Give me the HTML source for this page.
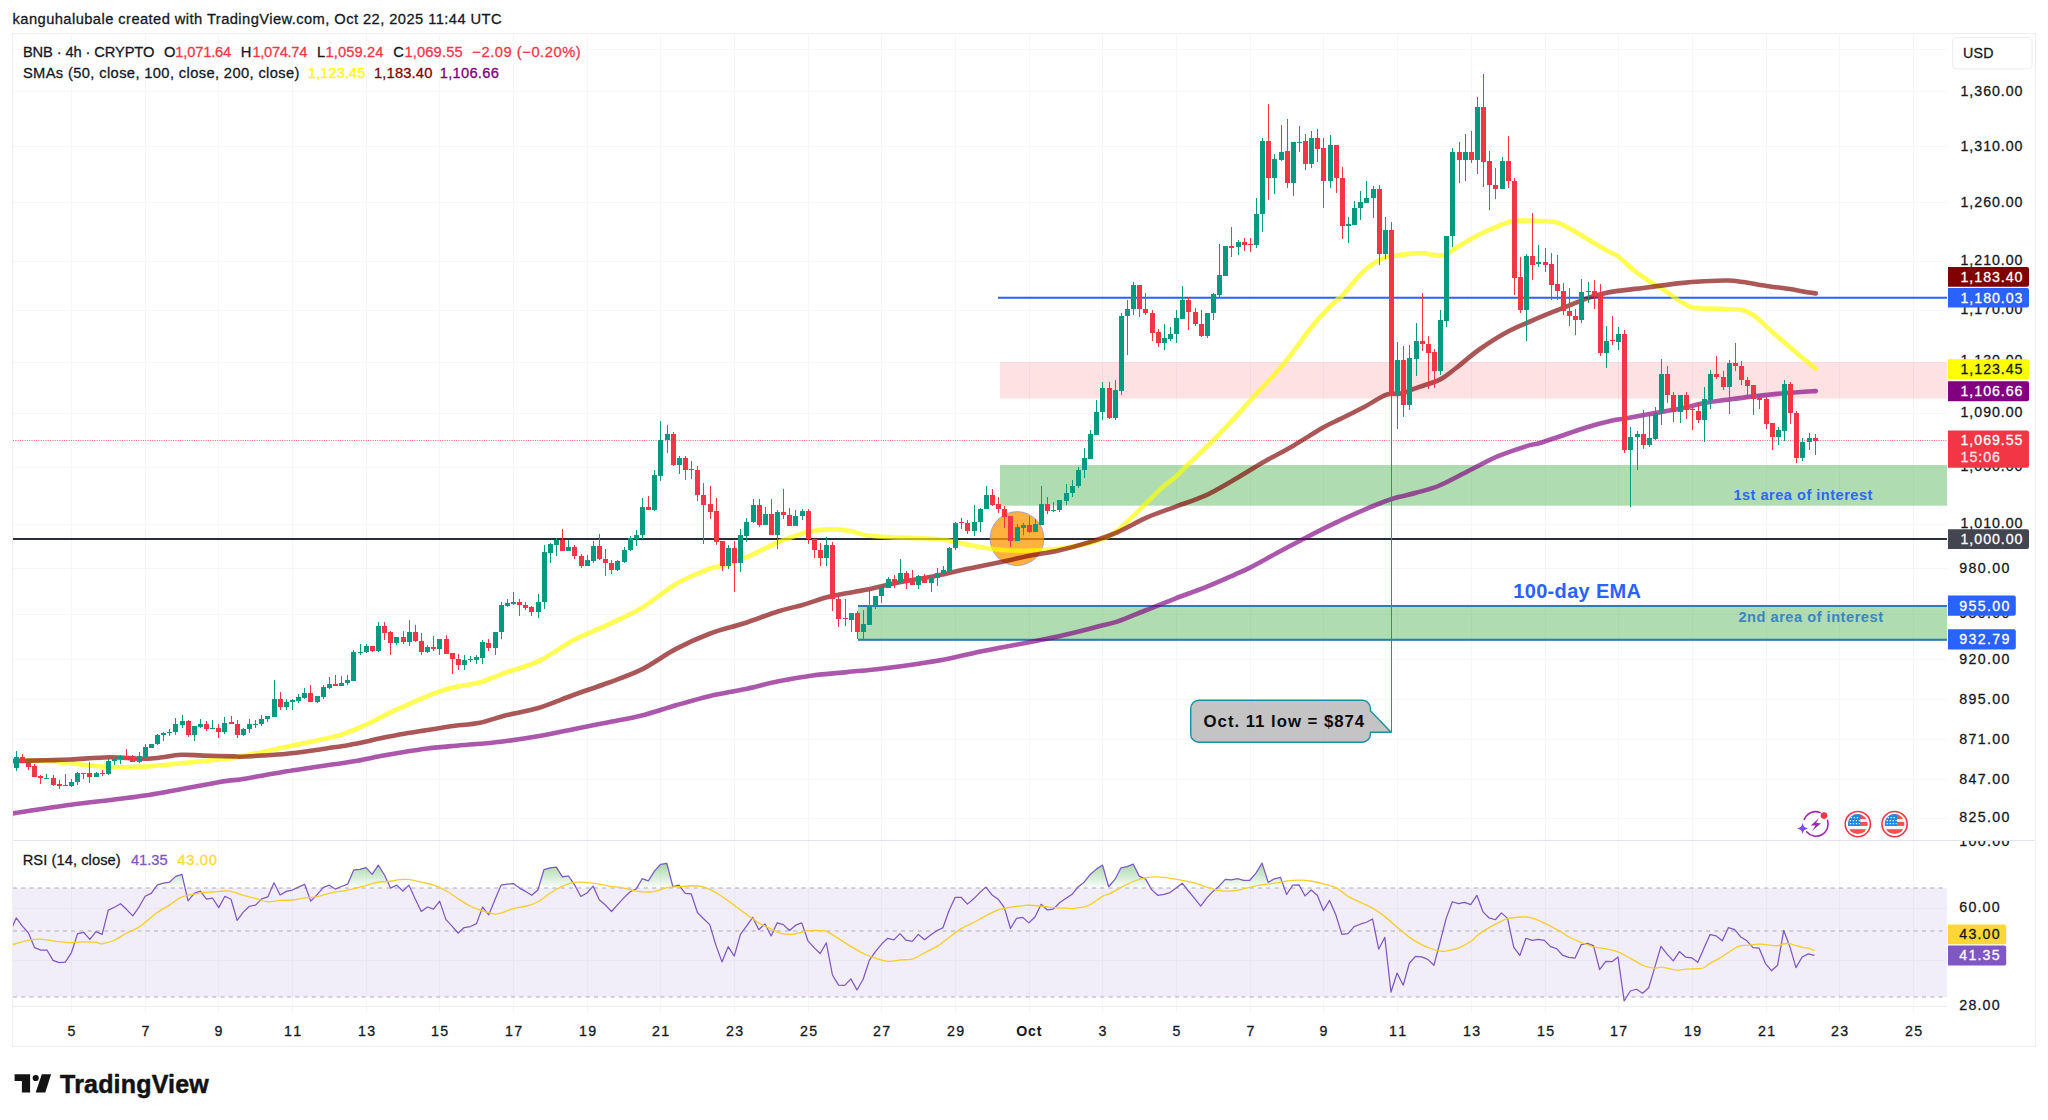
<!DOCTYPE html>
<html lang="en"><head><meta charset="utf-8"><title>BNB 4h chart</title>
<style>html,body{margin:0;padding:0;background:#fff}body{width:2048px;height:1120px;overflow:hidden}svg{display:block}text{font-family:"Liberation Sans", Arial, sans-serif;}</style></head><body>
<svg width="2048" height="1120" viewBox="0 0 2048 1120">
<defs><linearGradient id="rg" gradientUnits="userSpaceOnUse" x1="0" y1="862" x2="0" y2="888"><stop offset="0" stop-color="#4caf50" stop-opacity="0.52"/><stop offset="1" stop-color="#4caf50" stop-opacity="0.02"/></linearGradient>
<clipPath id="cm"><rect x="13" y="34" width="1934" height="806"/></clipPath>
<clipPath id="cr"><rect x="13" y="841" width="2022" height="165"/></clipPath>
<clipPath id="c70"><rect x="13" y="841" width="1934" height="46.9"/></clipPath>
<clipPath id="fl"><circle cx="0" cy="0" r="10"/></clipPath></defs>
<rect width="2048" height="1120" fill="#fff"/>
<path d="M71.5 34V1012.5M145.5 34V1012.5M218.5 34V1012.5M292.5 34V1012.5M366.5 34V1012.5M439.5 34V1012.5M513.5 34V1012.5M587.5 34V1012.5M660.5 34V1012.5M734.5 34V1012.5M808.5 34V1012.5M881.5 34V1012.5M955.5 34V1012.5M1029.5 34V1012.5M1102.5 34V1012.5M1176.5 34V1012.5M1250.5 34V1012.5M1323.5 34V1012.5M1397.5 34V1012.5M1471.5 34V1012.5M1545.5 34V1012.5M1618.5 34V1012.5M1692.5 34V1012.5M1766.5 34V1012.5M1839.5 34V1012.5M1913.5 34V1012.5M13 49.5H1947M13 91.5H1947M13 146.5H1947M13 202.5H1947M13 261.5H1947M13 310.5H1947M13 362.5H1947M13 413.5H1947M13 467.5H1947M13 524.5H1947M13 568.5H1947M13 614.5H1947M13 659.5H1947M13 699.5H1947M13 739.5H1947M13 779.5H1947M13 818.5H1947M13 908.5H1947M13 960.5H1947" stroke="#f6f6f8" stroke-width="1" fill="none"/>
<rect x="12.5" y="33.5" width="2023" height="1013" fill="none" stroke="#eeeef0" stroke-width="1"/>
<path d="M13 840.5H2035" stroke="#e0e3eb" stroke-width="1.2"/>
<path d="M13 1006.5H1947" stroke="#ebecef" stroke-width="1"/>
<g clip-path="url(#cm)">
<rect x="1000" y="362" width="947" height="36.5" fill="#f23645" fill-opacity="0.15"/>
<rect x="1000" y="465" width="947" height="40.7" fill="#4caf50" fill-opacity="0.44"/>
<rect x="858" y="605.2" width="1089" height="35.8" fill="#4caf50" fill-opacity="0.44"/>
<path d="M858 606.1H1947M858 639.8H1947" stroke="#2f7ab2" stroke-width="2" fill="none"/>
<path d="M13 539H1947" stroke="#2a2e39" stroke-width="2"/>
<path d="M998 297.7H1947" stroke="#2962ff" stroke-width="2"/>
<circle cx="1017" cy="538.6" r="27" fill="#ff9800" fill-opacity="0.75" stroke="#5b7fff" stroke-opacity="0.7" stroke-width="0.8"/>
<path d="M13 440.5H1947" stroke="#f23645" stroke-width="1" stroke-dasharray="1 1.32" stroke-opacity="0.78"/>
<path d="M12.5 760.3C18.23 760.43 37.13 760.58 46.9 761.1C56.67 761.62 63.29 762.62 71.1 763.4C78.91 764.18 86.07 765.15 93.75 765.8C101.43 766.45 108.69 767.17 117.2 767.3C125.71 767.43 135.68 767.12 144.8 766.6C153.92 766.08 162.18 765.12 171.9 764.2C181.62 763.28 192.68 762.13 203.1 761.1C213.52 760.07 228.25 758.83 234.4 758C240.55 757.17 235.17 757.1 240 756.1C244.83 755.1 255.58 753.57 263.4 752C271.22 750.43 279.08 748.37 286.9 746.7C294.72 745.03 302.49 743.65 310.3 742C318.11 740.35 327.88 738.27 333.75 736.8C339.62 735.33 341.59 734.57 345.5 733.2C349.41 731.83 353.3 730.25 357.2 728.6C361.1 726.95 365 725.17 368.9 723.3C372.8 721.43 376.7 719.35 380.6 717.4C384.5 715.45 388.38 713.45 392.3 711.6C396.22 709.75 400.18 708.07 404.1 706.3C408.02 704.53 411.9 702.7 415.8 701C419.7 699.3 423.6 697.67 427.5 696.1C431.4 694.53 435.3 692.93 439.2 691.6C443.1 690.27 446.98 689.12 450.9 688.1C454.82 687.08 457.85 686.47 462.7 685.5C467.55 684.53 472.93 684.42 480 682.3C487.07 680.18 495.22 676.38 505.1 672.8C514.98 669.22 527.92 666.22 539.3 660.8C550.68 655.38 562.02 646.28 573.4 640.3C584.78 634.32 596.2 630.3 607.6 624.9C619 619.5 630.4 614.73 641.8 607.9C653.2 601.07 664.6 590.47 676 583.9C687.4 577.33 702.48 571.52 710.2 568.5C717.92 565.48 716.23 567.68 722.3 565.8C728.37 563.92 737.35 561.12 746.6 557.2C755.85 553.28 769.63 545.85 777.8 542.3C785.97 538.75 790.02 537.74 795.6 535.9C801.18 534.06 805.25 532.33 811.25 531.25C817.25 530.17 825.09 529.46 831.6 529.4C838.11 529.34 844.58 529.93 850.3 530.9C856.02 531.87 859.38 534.15 865.9 535.2C872.42 536.25 880.28 536.68 889.4 537.2C898.52 537.72 911.48 537.87 920.6 538.3C929.72 538.73 936.28 538.77 944.1 539.8C951.92 540.83 959.7 543.01 967.5 544.5C975.3 545.99 982.57 547.7 990.9 548.75C999.23 549.8 1008.38 550.64 1017.5 550.8C1026.62 550.96 1037 550.3 1045.6 549.7C1054.2 549.1 1062.05 548.23 1069.1 547.2C1076.15 546.17 1082.75 544.73 1087.9 543.5C1093.05 542.27 1095.12 541.9 1100 539.8C1104.88 537.7 1109.45 537.03 1117.2 530.9C1124.95 524.77 1138.9 510.32 1146.5 503C1154.1 495.68 1157.92 491.38 1162.8 487C1167.68 482.62 1171.27 480.78 1175.8 476.7C1180.33 472.62 1184.51 467.78 1190 462.5C1195.49 457.22 1201.35 452.4 1208.75 445C1216.15 437.6 1227.38 425.65 1234.4 418.1C1241.43 410.55 1242.68 408.76 1250.9 399.7C1259.12 390.64 1273.33 376.25 1283.75 363.75C1294.17 351.25 1304.54 335.38 1313.4 324.7C1322.26 314.02 1332.47 304.08 1336.9 299.7C1341.33 295.32 1335.62 303.07 1340 298.4C1344.38 293.73 1356.23 278.28 1363.2 271.7C1370.17 265.12 1376 261.62 1381.8 258.9C1387.6 256.18 1391.43 256.37 1398 255.4C1404.57 254.43 1413.85 253.1 1421.2 253.1C1428.55 253.1 1435.52 256.75 1442.1 255.4C1448.68 254.05 1454.5 248.48 1460.7 245C1466.9 241.52 1473.12 237.6 1479.3 234.5C1485.48 231.4 1492.38 228.6 1497.8 226.4C1503.22 224.2 1507.15 222.27 1511.8 221.3C1516.45 220.33 1520.28 220.6 1525.7 220.6C1531.12 220.6 1538.88 220.92 1544.3 221.3C1549.72 221.68 1553.57 221.47 1558.2 222.9C1562.83 224.33 1568.47 227.97 1572.1 229.9C1575.73 231.83 1574.42 231.15 1580 234.5C1585.58 237.85 1599.25 246.38 1605.6 250C1611.95 253.62 1613.41 252.87 1618.1 256.25C1622.79 259.63 1628.53 266.13 1633.75 270.3C1638.97 274.47 1644.19 277.87 1649.4 281.25C1654.61 284.63 1659.8 287.21 1665 290.6C1670.2 293.99 1675.92 298.73 1680.6 301.6C1685.28 304.47 1687.88 306.63 1693.1 307.8C1698.32 308.97 1706.17 308.38 1711.9 308.6C1717.63 308.82 1722.3 308.83 1727.5 309.1C1732.7 309.37 1738.67 309.12 1743.1 310.2C1747.53 311.28 1750.18 312.87 1754.1 315.6C1758.02 318.33 1761.92 322.43 1766.6 326.6C1771.28 330.77 1777 336.05 1782.2 340.6C1787.4 345.15 1792.2 349.21 1797.8 353.9C1803.4 358.59 1812.8 366.27 1815.8 368.75" fill="none" stroke="#ffff00" stroke-opacity="0.68" stroke-width="4.6" stroke-linejoin="round" stroke-linecap="round"/>
<path d="M12.5 761.1C18.23 760.97 37.13 760.57 46.9 760.3C56.67 760.03 60.68 760.02 71.1 759.5C81.52 758.98 97.82 757.33 109.4 757.2C120.98 757.08 132.79 758.62 140.6 758.75C148.41 758.88 149.47 758.66 156.25 758C163.03 757.34 173.44 755.2 181.25 754.8C189.06 754.4 194.24 755.33 203.1 755.6C211.96 755.87 228.25 756.22 234.4 756.4C240.55 756.58 235.17 756.85 240 756.7C244.83 756.55 255.58 755.99 263.4 755.5C271.22 755.01 279.08 754.53 286.9 753.75C294.72 752.97 302.49 751.88 310.3 750.8C318.11 749.72 327.88 748.13 333.75 747.3C339.62 746.47 341.59 746.45 345.5 745.8C349.41 745.15 353.3 744.22 357.2 743.4C361.1 742.58 365 741.75 368.9 740.9C372.8 740.05 374.73 739.48 380.6 738.3C386.47 737.12 396.28 735.17 404.1 733.8C411.92 732.43 419.7 731.37 427.5 730.1C435.3 728.83 442.15 727.43 450.9 726.2C459.65 724.97 470.97 724.48 480 722.7C489.03 720.92 495.22 718 505.1 715.5C514.98 713 527.92 711.12 539.3 707.7C550.68 704.28 562.02 699.12 573.4 695C584.78 690.88 596.2 687.27 607.6 683C619 678.73 630.4 675.08 641.8 669.4C653.2 663.72 664.6 654.88 676 648.9C687.4 642.92 698.82 637.78 710.2 633.5C721.58 629.22 732.92 626.9 744.3 623.2C755.68 619.5 768.65 614.38 778.5 611.3C788.35 608.22 794.55 607.23 803.4 604.7C812.25 602.17 821.18 598.58 831.6 596.1C842.02 593.62 854.97 592.02 865.9 589.8C876.83 587.58 885.48 585.13 897.2 582.8C908.93 580.47 924.53 578.14 936.25 575.8C947.97 573.46 957.08 570.97 967.5 568.75C977.92 566.53 988.45 564.66 998.75 562.5C1009.05 560.34 1019.32 557.8 1029.3 555.8C1039.27 553.8 1048.83 552.7 1058.6 550.5C1068.37 548.3 1078.13 545.63 1087.9 542.6C1097.67 539.57 1107.43 536.45 1117.2 532.3C1126.97 528.15 1136.73 521.98 1146.5 517.7C1156.27 513.42 1166.03 510.27 1175.8 506.6C1185.57 502.93 1195.33 500.2 1205.1 495.7C1214.87 491.2 1224.63 485.22 1234.4 479.6C1244.17 473.98 1253.93 467.62 1263.7 462C1273.47 456.38 1283.23 451.57 1293 445.9C1302.77 440.23 1314.47 432.47 1322.3 428C1330.13 423.53 1333.18 422.52 1340 419.1C1346.82 415.68 1355.47 411.57 1363.2 407.5C1370.93 403.43 1380.2 397.02 1386.4 394.7C1392.6 392.38 1395.37 394.75 1400.4 393.6C1405.43 392.45 1410.03 390.13 1416.6 387.8C1423.17 385.47 1433.22 382.9 1439.8 379.6C1446.38 376.3 1449.52 373.02 1456.1 368C1462.68 362.98 1470.8 355.5 1479.3 349.5C1487.8 343.5 1498.2 336.85 1507.1 332C1516 327.15 1524.62 323.92 1532.7 320.4C1540.78 316.88 1549.17 313.52 1555.6 310.9C1562.02 308.28 1566.03 306.78 1571.25 304.7C1576.47 302.62 1581.69 300.22 1586.9 298.4C1592.11 296.57 1597.3 295 1602.5 293.75C1607.7 292.5 1610.28 291.99 1618.1 290.9C1625.92 289.81 1638.98 288.5 1649.4 287.2C1659.82 285.9 1671.48 284.09 1680.6 283.1C1689.72 282.11 1696.28 281.68 1704.1 281.25C1711.92 280.82 1721 280.38 1727.5 280.5C1734 280.62 1736.58 281.1 1743.1 282C1749.62 282.9 1758.78 284.72 1766.6 285.9C1774.42 287.08 1783.5 288.1 1790 289.1C1796.5 290.1 1801.3 291.18 1805.6 291.9C1809.9 292.62 1814.1 293.15 1815.8 293.4" fill="none" stroke="#800000" stroke-opacity="0.66" stroke-width="4.6" stroke-linejoin="round" stroke-linecap="round"/>
<path d="M12.5 813.4C22.25 811.97 48.95 807.78 71 804.8C93.05 801.82 120.23 799.27 144.8 795.5C169.37 791.73 202.53 784.87 218.4 782.2C234.27 779.53 232.5 780.63 240 779.5C247.5 778.37 255.58 776.77 263.4 775.4C271.22 774.03 279.08 772.57 286.9 771.3C294.72 770.03 302.49 768.97 310.3 767.8C318.11 766.63 325.93 765.47 333.75 764.3C341.57 763.13 349.39 762.17 357.2 760.8C365.01 759.43 372.78 757.57 380.6 756.1C388.42 754.63 396.28 753.27 404.1 752C411.92 750.73 419.7 749.48 427.5 748.5C435.3 747.52 442.15 746.88 450.9 746.1C459.65 745.32 470.97 744.62 480 743.8C489.03 742.98 495.22 742.5 505.1 741.2C514.98 739.9 527.92 738 539.3 736C550.68 734 562.02 731.47 573.4 729.2C584.78 726.93 596.2 724.68 607.6 722.4C619 720.12 630.4 718.35 641.8 715.5C653.2 712.65 664.6 708.55 676 705.3C687.4 702.05 698.82 698.68 710.2 696C721.58 693.32 732.92 691.65 744.3 689.2C755.68 686.75 767.1 683.58 778.5 681.3C789.9 679.02 801.3 677.03 812.7 675.5C824.1 673.97 835.5 673.23 846.9 672.1C858.3 670.97 869.72 670.02 881.1 668.7C892.48 667.38 903.82 665.92 915.2 664.2C926.58 662.48 938.08 660.6 949.4 658.4C960.72 656.2 972.27 653.23 983.1 651C993.93 648.77 1003.98 646.98 1014.4 645C1024.82 643.02 1035.18 641.27 1045.6 639.1C1056.02 636.93 1067.83 634.18 1076.9 632C1085.97 629.82 1093.28 627.72 1100 626C1106.72 624.28 1109.45 624.37 1117.2 621.7C1124.95 619.03 1136.73 613.9 1146.5 610C1156.27 606.1 1166.03 602.07 1175.8 598.3C1185.57 594.53 1195.33 591.32 1205.1 587.4C1214.87 583.48 1227.08 578.02 1234.4 574.8C1241.72 571.58 1241.68 571.85 1249 568.1C1256.32 564.35 1268.53 557.53 1278.3 552.3C1288.07 547.07 1297.83 541.73 1307.6 536.7C1317.37 531.67 1327.13 526.73 1336.9 522.1C1346.67 517.47 1358.87 512.08 1366.2 508.9C1373.53 505.72 1376.5 504.7 1380.9 503C1385.3 501.3 1386.75 500.4 1392.6 498.7C1398.45 497 1408.18 495 1416 492.8C1423.82 490.6 1430.7 489.17 1439.5 485.5C1448.3 481.83 1459.05 475.68 1468.8 470.8C1478.55 465.92 1488.25 460.35 1498 456.2C1507.75 452.05 1520.3 448.1 1527.3 445.9C1534.3 443.7 1533.98 444.78 1540 443C1546.02 441.22 1555.58 437.82 1563.4 435.2C1571.22 432.58 1579.08 429.65 1586.9 427.3C1594.72 424.95 1603.9 422.58 1610.3 421.1C1616.7 419.62 1618.78 419.57 1625.3 418.4C1631.82 417.23 1640.18 415.73 1649.4 414.1C1658.62 412.47 1671.48 410.43 1680.6 408.6C1689.72 406.77 1696.28 404.58 1704.1 403.1C1711.92 401.62 1719.7 400.78 1727.5 399.7C1735.3 398.62 1743.08 397.53 1750.9 396.6C1758.72 395.67 1766.58 394.83 1774.4 394.1C1782.22 393.37 1790.9 392.7 1797.8 392.2C1804.7 391.7 1812.8 391.28 1815.8 391.1" fill="none" stroke="#800080" stroke-opacity="0.66" stroke-width="4.6" stroke-linejoin="round" stroke-linecap="round"/>
<path d="M16.5 751V771M46.5 774V779M65.5 774V786M71.5 779V787M77.5 772V785M83.5 773V779M96.5 772V777M108.5 759V775M114.5 758V765M120.5 755V764M139.5 752V763M145.5 744V757M151.5 744V748M157.5 734V745M163.5 732V741M169.5 729V736M175.5 718V735M182.5 715V728M194.5 726V741M200.5 719V728M212.5 720V729M224.5 717V734M243.5 728V736M249.5 719V733M255.5 720V728M261.5 715V726M267.5 716V722M274.5 680V717M286.5 699V710M292.5 699V710M298.5 694V703M304.5 688V699M317.5 696V703M323.5 685V699M329.5 677V689M341.5 676V686M347.5 675V685M353.5 650V681M360.5 644V655M366.5 644V653M378.5 622V652M396.5 637V645M409.5 620V646M427.5 645V653M439.5 639V655M464.5 655V670M470.5 656V662M476.5 655V664M482.5 640V664M495.5 632V655M501.5 602V639M507.5 599V607M513.5 592V605M538.5 594V618M544.5 545V609M550.5 543V563M556.5 538V556M568.5 540V551M587.5 555V566M593.5 541V563M617.5 560V571M624.5 547V563M630.5 536V551M636.5 530V546M642.5 498V539M654.5 470V511M660.5 421V481M667.5 425V453M679.5 456V474M728.5 545V569M740.5 529V572M746.5 518V542M753.5 499V523M765.5 507V525M777.5 510V549M795.5 510V526M802.5 509V520M826.5 537V566M851.5 613V632M863.5 610V639M869.5 589V625M875.5 596V609M881.5 586V603M888.5 577V588M900.5 559V584M918.5 575V589M931.5 577V592M937.5 568V586M943.5 566V574M949.5 547V571M955.5 522V550M974.5 505V536M980.5 508V532M986.5 486V509M1017.5 524V541M1023.5 523V535M1035.5 519V532M1041.5 486V525M1053.5 502V512M1059.5 500V512M1066.5 484V505M1072.5 480V497M1078.5 467V488M1084.5 448V478M1090.5 430V459M1096.5 400V435M1102.5 382V420M1115.5 380V420M1121.5 313V395M1127.5 300V355M1133.5 282V315M1164.5 324V350M1170.5 327V341M1176.5 310V343M1182.5 286V319M1207.5 313V338M1213.5 293V320M1219.5 244V298M1225.5 246V276M1238.5 240V255M1256.5 198V248M1262.5 138V232M1274.5 154V194M1281.5 125V161M1293.5 142V196M1299.5 126V152M1311.5 131V168M1330.5 135V188M1348.5 217V243M1354.5 201V225M1360.5 191V220M1366.5 181V203M1373.5 186V218M1385.5 217V259M1397.5 342V429M1409.5 345V410M1416.5 323V376M1440.5 310V375M1446.5 236V327M1452.5 148V247M1465.5 134V181M1477.5 97V174M1502.5 157V189M1526.5 254V341M1538.5 245V267M1581.5 279V323M1588.5 282V303M1606.5 326V368M1618.5 327V350M1630.5 427V507M1637.5 431V470M1649.5 413V447M1655.5 407V440M1661.5 359V425M1680.5 395V423M1704.5 387V442M1710.5 370V409M1729.5 360V414M1778.5 427V445M1784.5 380V441M1802.5 438V461M1809.5 433V450" stroke="#089981" stroke-width="1" fill="none"/>
<path d="M22.5 754V763M28.5 763V770M34.5 764V777M40.5 775V784M53.5 775V786M59.5 780V789M89.5 762V783M102.5 770V776M126.5 749V759M132.5 755V762M188.5 720V737M206.5 721V731M218.5 724V738M231.5 716V724M237.5 720V738M280.5 692V710M310.5 685V702M335.5 675V686M372.5 646V652M384.5 622V640M390.5 631V655M403.5 631V644M415.5 625V642M421.5 633V655M433.5 636V651M446.5 635V654M452.5 653V674M458.5 654V670M488.5 639V651M519.5 599V616M525.5 602V610M531.5 606V616M562.5 529V551M574.5 545V559M581.5 554V568M599.5 534V560M605.5 549V576M611.5 560V574M648.5 496V510M673.5 432V466M685.5 456V480M691.5 461V479M697.5 466V501M703.5 483V544M710.5 486V519M716.5 498V545M722.5 541V571M734.5 541V592M759.5 499V527M771.5 499V535M783.5 489V519M789.5 508V526M808.5 509V544M814.5 539V558M820.5 543V566M832.5 542V611M838.5 597V627M845.5 599V626M857.5 611V639M894.5 575V588M906.5 571V589M912.5 570V585M924.5 574V583M961.5 518V529M967.5 520V534M992.5 489V506M998.5 497V513M1004.5 506V528M1010.5 516V547M1029.5 516V533M1047.5 497V514M1109.5 382V419M1139.5 285V317M1145.5 293V315M1152.5 310V341M1158.5 329V347M1188.5 297V330M1195.5 308V326M1201.5 310V337M1231.5 227V257M1244.5 238V251M1250.5 238V252M1268.5 104V200M1287.5 119V188M1305.5 134V170M1317.5 129V162M1323.5 138V208M1336.5 145V193M1342.5 167V239M1379.5 185V265M1391.5 222V732M1403.5 346V417M1422.5 293V351M1428.5 336V389M1434.5 349V388M1459.5 142V183M1471.5 131V163M1483.5 74V187M1489.5 151V210M1495.5 168V199M1508.5 136V188M1514.5 178V295M1520.5 257V313M1532.5 213V280M1545.5 248V272M1551.5 253V300M1557.5 255V300M1563.5 283V315M1569.5 288V326M1575.5 309V335M1594.5 280V309M1600.5 284V356M1612.5 316V345M1624.5 330V453M1643.5 410V449M1667.5 366V403M1673.5 392V422M1686.5 392V419M1692.5 407V430M1698.5 403V423M1716.5 356V379M1723.5 371V390M1735.5 343V371M1741.5 361V385M1747.5 377V399M1753.5 385V415M1759.5 394V409M1766.5 397V429M1772.5 423V450M1790.5 382V424M1796.5 411V463M1815.5 434V455" stroke="#f23645" stroke-width="1" fill="none"/>
<path d="M14 757h5v11h-5zM44 778h5v1h-5zM63 785h5v1h-5zM69 782h5v4h-5zM75 773h5v9h-5zM81 773h5v1h-5zM94 773h5v4h-5zM106 761h5v13h-5zM112 759h5v2h-5zM118 756h5v3h-5zM137 756h5v6h-5zM143 747h5v10h-5zM149 744h5v4h-5zM155 735h5v9h-5zM161 733h5v2h-5zM167 732h5v1h-5zM173 724h5v8h-5zM180 721h5v4h-5zM192 726h5v9h-5zM198 724h5v3h-5zM210 728h5v1h-5zM222 723h5v9h-5zM241 729h5v6h-5zM247 724h5v5h-5zM253 724h5v1h-5zM259 719h5v5h-5zM265 716h5v3h-5zM272 699h5v18h-5zM284 702h5v5h-5zM290 700h5v2h-5zM296 697h5v4h-5zM302 693h5v5h-5zM315 696h5v6h-5zM321 687h5v10h-5zM327 684h5v4h-5zM339 683h5v3h-5zM345 680h5v3h-5zM351 652h5v29h-5zM358 652h5v1h-5zM364 646h5v6h-5zM376 626h5v25h-5zM394 637h5v6h-5zM407 632h5v10h-5zM425 647h5v5h-5zM437 639h5v10h-5zM462 660h5v5h-5zM468 659h5v1h-5zM474 657h5v3h-5zM480 642h5v16h-5zM493 632h5v16h-5zM499 605h5v27h-5zM505 603h5v3h-5zM511 602h5v2h-5zM536 602h5v10h-5zM542 552h5v50h-5zM548 544h5v9h-5zM554 540h5v5h-5zM566 547h5v4h-5zM585 560h5v6h-5zM591 546h5v15h-5zM615 561h5v9h-5zM622 550h5v12h-5zM628 538h5v12h-5zM634 535h5v4h-5zM640 507h5v28h-5zM652 475h5v35h-5zM658 440h5v36h-5zM665 434h5v6h-5zM677 458h5v7h-5zM726 548h5v18h-5zM738 535h5v28h-5zM744 522h5v14h-5zM751 505h5v17h-5zM763 514h5v11h-5zM775 512h5v23h-5zM793 516h5v10h-5zM800 511h5v5h-5zM824 545h5v13h-5zM849 613h5v7h-5zM861 624h5v8h-5zM867 605h5v20h-5zM873 596h5v10h-5zM879 587h5v9h-5zM886 579h5v9h-5zM898 573h5v9h-5zM916 576h5v9h-5zM929 577h5v6h-5zM935 573h5v5h-5zM941 570h5v4h-5zM947 548h5v23h-5zM953 523h5v25h-5zM972 522h5v9h-5zM978 509h5v13h-5zM984 495h5v14h-5zM1015 527h5v14h-5zM1021 525h5v3h-5zM1033 524h5v8h-5zM1039 504h5v21h-5zM1051 510h5v1h-5zM1057 500h5v10h-5zM1064 493h5v8h-5zM1070 486h5v7h-5zM1076 470h5v16h-5zM1082 458h5v12h-5zM1088 434h5v25h-5zM1094 412h5v23h-5zM1100 388h5v24h-5zM1113 390h5v28h-5zM1119 316h5v75h-5zM1125 309h5v7h-5zM1131 285h5v24h-5zM1162 338h5v5h-5zM1168 334h5v5h-5zM1174 318h5v16h-5zM1180 300h5v19h-5zM1205 313h5v23h-5zM1211 294h5v19h-5zM1217 275h5v20h-5zM1223 246h5v30h-5zM1236 242h5v5h-5zM1254 214h5v31h-5zM1260 141h5v73h-5zM1272 159h5v19h-5zM1279 152h5v8h-5zM1291 142h5v41h-5zM1297 142h5v1h-5zM1309 138h5v26h-5zM1328 145h5v36h-5zM1346 224h5v2h-5zM1352 208h5v17h-5zM1358 202h5v6h-5zM1364 198h5v5h-5zM1371 189h5v9h-5zM1383 230h5v24h-5zM1395 360h5v36h-5zM1407 358h5v47h-5zM1414 341h5v18h-5zM1438 320h5v51h-5zM1444 236h5v85h-5zM1450 152h5v84h-5zM1463 152h5v8h-5zM1475 107h5v53h-5zM1500 161h5v28h-5zM1524 256h5v54h-5zM1536 262h5v2h-5zM1579 292h5v28h-5zM1586 291h5v1h-5zM1604 341h5v12h-5zM1616 334h5v8h-5zM1628 437h5v13h-5zM1635 434h5v3h-5zM1647 438h5v7h-5zM1653 413h5v26h-5zM1659 374h5v39h-5zM1678 395h5v17h-5zM1702 399h5v21h-5zM1708 374h5v26h-5zM1727 363h5v24h-5zM1776 430h5v7h-5zM1782 384h5v47h-5zM1800 442h5v16h-5zM1807 438h5v4h-5z" fill="#089981"/>
<path d="M20 757h5v6h-5zM26 763h5v4h-5zM32 766h5v11h-5zM38 776h5v2h-5zM51 778h5v7h-5zM57 784h5v2h-5zM87 773h5v4h-5zM100 773h5v1h-5zM124 756h5v3h-5zM130 758h5v4h-5zM186 721h5v14h-5zM204 724h5v5h-5zM216 728h5v4h-5zM229 722h5v2h-5zM235 724h5v11h-5zM278 699h5v8h-5zM308 693h5v9h-5zM333 684h5v2h-5zM370 646h5v5h-5zM382 626h5v7h-5zM388 632h5v11h-5zM401 637h5v5h-5zM413 632h5v9h-5zM419 641h5v11h-5zM431 647h5v2h-5zM444 639h5v15h-5zM450 653h5v6h-5zM456 659h5v6h-5zM486 643h5v5h-5zM517 602h5v3h-5zM523 605h5v3h-5zM529 607h5v5h-5zM560 540h5v11h-5zM572 547h5v9h-5zM579 556h5v10h-5zM597 546h5v13h-5zM603 559h5v4h-5zM609 563h5v7h-5zM646 507h5v3h-5zM671 434h5v31h-5zM683 458h5v12h-5zM689 469h5v1h-5zM695 470h5v25h-5zM701 495h5v10h-5zM708 504h5v8h-5zM714 511h5v31h-5zM720 541h5v25h-5zM732 548h5v15h-5zM757 505h5v20h-5zM769 514h5v21h-5zM781 512h5v3h-5zM787 515h5v11h-5zM806 511h5v28h-5zM812 539h5v11h-5zM818 550h5v8h-5zM830 545h5v54h-5zM836 599h5v20h-5zM843 618h5v1h-5zM855 613h5v19h-5zM892 579h5v3h-5zM904 573h5v10h-5zM910 582h5v3h-5zM922 576h5v7h-5zM959 522h5v1h-5zM965 523h5v8h-5zM990 495h5v10h-5zM996 504h5v5h-5zM1002 509h5v8h-5zM1008 516h5v25h-5zM1027 525h5v7h-5zM1045 504h5v7h-5zM1107 388h5v30h-5zM1137 285h5v24h-5zM1143 309h5v4h-5zM1150 313h5v20h-5zM1156 332h5v11h-5zM1186 300h5v12h-5zM1193 312h5v12h-5zM1199 324h5v12h-5zM1229 246h5v2h-5zM1242 242h5v3h-5zM1248 244h5v1h-5zM1266 141h5v37h-5zM1285 151h5v32h-5zM1303 141h5v23h-5zM1315 138h5v11h-5zM1321 148h5v33h-5zM1334 145h5v33h-5zM1340 178h5v48h-5zM1377 189h5v65h-5zM1389 230h5v166h-5zM1401 360h5v45h-5zM1420 341h5v3h-5zM1426 344h5v9h-5zM1432 352h5v19h-5zM1457 152h5v8h-5zM1469 152h5v8h-5zM1481 107h5v55h-5zM1487 161h5v24h-5zM1493 185h5v4h-5zM1506 161h5v20h-5zM1512 181h5v97h-5zM1518 277h5v33h-5zM1530 256h5v9h-5zM1543 262h5v3h-5zM1549 264h5v21h-5zM1555 284h5v7h-5zM1561 291h5v20h-5zM1567 311h5v5h-5zM1573 316h5v4h-5zM1592 291h5v5h-5zM1598 295h5v58h-5zM1610 340h5v1h-5zM1622 334h5v116h-5zM1641 434h5v11h-5zM1665 374h5v21h-5zM1671 395h5v17h-5zM1684 395h5v15h-5zM1690 409h5v1h-5zM1696 411h5v9h-5zM1714 374h5v3h-5zM1721 377h5v10h-5zM1733 363h5v3h-5zM1739 366h5v14h-5zM1745 380h5v6h-5zM1751 385h5v14h-5zM1757 398h5v2h-5zM1764 399h5v25h-5zM1770 423h5v14h-5zM1788 384h5v29h-5zM1794 413h5v45h-5zM1813 438h5v3h-5z" fill="#f23645"/>
</g>
<text x="1513.3" y="598.3" font-size="20" fill="#2962ff" textLength="127.7" lengthAdjust="spacing" font-weight="bold">100-day EMA</text>
<text x="1733.4" y="499.7" font-size="14.6" fill="#2e66ff" textLength="139" lengthAdjust="spacing" font-weight="bold">1st area of interest</text>
<text x="1738.4" y="622.3" font-size="14.6" fill="#3a86c2" textLength="144.6" lengthAdjust="spacing" font-weight="bold">2nd area of interest</text>
<path d="M1198.7 700.3H1362.4a8 8 0 0 1 8 8V710.8L1391.1 732.3H1370.4V734.2a8 8 0 0 1 -8 8H1198.7a8 8 0 0 1 -8 -8V708.3a8 8 0 0 1 8 -8z" fill="#b4b4b4" fill-opacity="0.78" stroke="#1b8ea6" stroke-width="1.4" stroke-linejoin="round"/>
<text x="1203.6" y="726.6" font-size="16.8" fill="#0c0c0c" textLength="160.6" lengthAdjust="spacing" font-weight="bold">Oct. 11 low = $874</text>
<g clip-path="url(#cr)">
<rect x="13" y="888" width="1934" height="109" fill="#7e57c2" fill-opacity="0.1"/>
<path d="M12.2 927.15L16.22 917.97L22.35 926.17L28.49 933.01L34.63 947.66L40.76 950.2L46.9 950L53.04 960.35L59.18 962.7L65.31 962.11L71.45 952.54L77.59 933.59L83.72 932.42L89.86 939.45L96 931.64L102.14 934.38L108.27 910.16L114.41 907.23L120.55 903.71L126.68 909.57L132.82 915.82L138.96 907.23L145.1 896.29L151.23 893.36L157.37 884.77L163.51 883.2L169.65 882.03L175.78 876.37L181.92 874.41L188.06 900.78L194.19 893.36L200.33 891.02L206.47 899.22L212.61 898.24L218.74 907.62L224.88 896.29L231.02 899.22L237.15 920.31L243.29 912.11L249.43 906.25L255.57 905.08L261.7 898.83L267.84 896.88L273.98 882.81L280.11 894.92L286.25 891.41L292.39 890.04L298.53 887.11L304.66 884.38L310.8 901.17L316.94 894.92L323.08 887.7L329.21 885.16L335.35 889.06L341.49 886.52L347.62 884.18L353.76 869.92L359.9 869.34L366.04 867.58L372.17 874.41L378.31 865.04L384.45 875L390.58 888.09L396.72 885.16L402.86 891.02L409 885.16L415.13 898.83L421.27 911.52L427.41 907.03L433.54 909.18L439.68 901.17L445.82 919.34L451.96 926.17L458.09 933.01L464.23 927.54L470.37 926.56L476.51 923.63L482.64 907.03L488.78 914.84L494.92 899.8L501.05 885.16L507.19 884.18L513.33 883.59L519.47 888.09L525.6 891.41L531.74 895.31L537.88 890.04L544.01 869.53L550.15 867.97L556.29 867.19L562.43 876.95L568.56 875.98L574.7 885.16L580.84 896.48L586.97 892.97L593.11 886.13L599.25 899.8L605.39 905.08L611.52 911.52L617.66 904.69L623.8 897.85L629.94 891.99L636.07 889.06L642.21 878.71L648.35 880.86L654.48 871.09L660.62 864.26L666.76 863.28L672.9 886.72L679.03 885.16L685.17 893.36L691.31 893.95L697.44 912.5L703.58 918.75L709.72 924.61L715.86 945.12L721.99 961.91L728.13 946.68L734.27 956.05L740.4 934.38L746.54 926.17L752.68 917.38L758.82 929.69L764.95 923.83L771.09 935.94L777.23 922.85L783.37 924.61L789.5 930.47L795.64 925.2L801.78 922.85L807.91 940.82L814.05 947.66L820.19 953.52L826.33 942.77L832.46 975L838.6 985.16L844.74 985.35L850.87 978.91L857.01 990.04L863.15 979.3L869.29 960.35L875.42 951.56L881.56 944.14L887.7 938.28L893.83 939.84L899.97 933.59L906.11 940.23L912.25 941.41L918.38 934.38L924.52 939.84L930.66 934.96L936.8 930.66L942.93 927.73L949.07 910.55L955.21 897.27L961.34 897.46L967.48 904.1L973.62 898.83L979.76 892.58L985.89 887.11L992.03 894.92L998.17 899.22L1004.3 907.62L1010.44 928.52L1016.58 918.36L1022.72 917.38L1028.85 922.85L1034.99 916.99L1041.13 904.3L1047.26 909.96L1053.4 909.18L1059.54 902.73L1065.68 898.44L1071.81 894.53L1077.95 887.11L1084.09 882.23L1090.23 874.41L1096.36 869.14L1102.5 865.04L1108.64 886.72L1114.77 879.69L1120.91 867.97L1127.05 866.6L1133.19 864.06L1139.32 876.37L1145.46 878.91L1151.6 889.65L1157.73 895.31L1163.87 894.34L1170.01 892.58L1176.15 888.09L1182.28 883.2L1188.42 891.02L1194.56 898.44L1200.69 906.05L1206.83 897.85L1212.97 891.41L1219.11 886.13L1225.24 879.3L1231.38 879.88L1237.52 878.71L1243.66 880.27L1249.79 880.27L1255.93 873.05L1262.07 863.09L1268.2 882.23L1274.34 878.91L1280.48 877.34L1286.62 894.53L1292.75 885.16L1298.89 884.77L1305.03 895.9L1311.16 890.04L1317.3 895.31L1323.44 910.55L1329.58 900.39L1335.71 914.45L1341.85 934.38L1347.99 933.59L1354.12 926.56L1360.26 924.22L1366.4 922.27L1372.54 918.95L1378.67 949.22L1384.81 937.3L1390.95 992.19L1397.09 973.05L1403.22 985.16L1409.36 963.28L1415.5 956.45L1421.63 956.84L1427.77 959.38L1433.91 965.23L1440.05 942.19L1446.18 918.36L1452.32 901.76L1458.46 903.71L1464.59 902.34L1470.73 904.69L1476.87 895.31L1483.01 911.91L1489.14 917.97L1495.28 919.73L1501.42 912.89L1507.55 918.36L1513.69 947.07L1519.83 955.47L1525.97 938.28L1532.1 940.43L1538.24 939.45L1544.38 940.43L1550.52 946.68L1556.65 948.63L1562.79 955.47L1568.93 957.42L1575.06 958.01L1581.2 944.73L1587.34 943.36L1593.48 945.7L1599.61 969.53L1605.75 961.33L1611.89 961.72L1618.02 957.03L1624.16 1000.98L1630.3 991.02L1636.44 989.26L1642.57 993.16L1648.71 987.7L1654.85 967.19L1660.98 946.29L1667.12 954.1L1673.26 960.94L1679.4 951.56L1685.53 957.03L1691.67 957.81L1697.81 962.3L1703.95 948.24L1710.08 934.57L1716.22 935.94L1722.36 940.82L1728.49 927.54L1734.63 929.69L1740.77 936.91L1746.91 940.82L1753.04 947.66L1759.18 948.24L1765.32 963.28L1771.45 970.7L1777.59 965.23L1783.73 930.47L1789.87 946.68L1796 967.58L1802.14 957.03L1808.28 953.91L1814.41 955.47L1814.41 888L12.2 888z" fill="url(#rg)" clip-path="url(#c70)"/>
<path d="M13 888H1947M13 931H1947M13 997H1947" stroke="#a9abb3" stroke-width="1.1" stroke-dasharray="4 4.3" fill="none"/>
<path d="M12.2 927.15L16.22 917.97L22.35 926.17L28.49 933.01L34.63 947.66L40.76 950.2L46.9 950L53.04 960.35L59.18 962.7L65.31 962.11L71.45 952.54L77.59 933.59L83.72 932.42L89.86 939.45L96 931.64L102.14 934.38L108.27 910.16L114.41 907.23L120.55 903.71L126.68 909.57L132.82 915.82L138.96 907.23L145.1 896.29L151.23 893.36L157.37 884.77L163.51 883.2L169.65 882.03L175.78 876.37L181.92 874.41L188.06 900.78L194.19 893.36L200.33 891.02L206.47 899.22L212.61 898.24L218.74 907.62L224.88 896.29L231.02 899.22L237.15 920.31L243.29 912.11L249.43 906.25L255.57 905.08L261.7 898.83L267.84 896.88L273.98 882.81L280.11 894.92L286.25 891.41L292.39 890.04L298.53 887.11L304.66 884.38L310.8 901.17L316.94 894.92L323.08 887.7L329.21 885.16L335.35 889.06L341.49 886.52L347.62 884.18L353.76 869.92L359.9 869.34L366.04 867.58L372.17 874.41L378.31 865.04L384.45 875L390.58 888.09L396.72 885.16L402.86 891.02L409 885.16L415.13 898.83L421.27 911.52L427.41 907.03L433.54 909.18L439.68 901.17L445.82 919.34L451.96 926.17L458.09 933.01L464.23 927.54L470.37 926.56L476.51 923.63L482.64 907.03L488.78 914.84L494.92 899.8L501.05 885.16L507.19 884.18L513.33 883.59L519.47 888.09L525.6 891.41L531.74 895.31L537.88 890.04L544.01 869.53L550.15 867.97L556.29 867.19L562.43 876.95L568.56 875.98L574.7 885.16L580.84 896.48L586.97 892.97L593.11 886.13L599.25 899.8L605.39 905.08L611.52 911.52L617.66 904.69L623.8 897.85L629.94 891.99L636.07 889.06L642.21 878.71L648.35 880.86L654.48 871.09L660.62 864.26L666.76 863.28L672.9 886.72L679.03 885.16L685.17 893.36L691.31 893.95L697.44 912.5L703.58 918.75L709.72 924.61L715.86 945.12L721.99 961.91L728.13 946.68L734.27 956.05L740.4 934.38L746.54 926.17L752.68 917.38L758.82 929.69L764.95 923.83L771.09 935.94L777.23 922.85L783.37 924.61L789.5 930.47L795.64 925.2L801.78 922.85L807.91 940.82L814.05 947.66L820.19 953.52L826.33 942.77L832.46 975L838.6 985.16L844.74 985.35L850.87 978.91L857.01 990.04L863.15 979.3L869.29 960.35L875.42 951.56L881.56 944.14L887.7 938.28L893.83 939.84L899.97 933.59L906.11 940.23L912.25 941.41L918.38 934.38L924.52 939.84L930.66 934.96L936.8 930.66L942.93 927.73L949.07 910.55L955.21 897.27L961.34 897.46L967.48 904.1L973.62 898.83L979.76 892.58L985.89 887.11L992.03 894.92L998.17 899.22L1004.3 907.62L1010.44 928.52L1016.58 918.36L1022.72 917.38L1028.85 922.85L1034.99 916.99L1041.13 904.3L1047.26 909.96L1053.4 909.18L1059.54 902.73L1065.68 898.44L1071.81 894.53L1077.95 887.11L1084.09 882.23L1090.23 874.41L1096.36 869.14L1102.5 865.04L1108.64 886.72L1114.77 879.69L1120.91 867.97L1127.05 866.6L1133.19 864.06L1139.32 876.37L1145.46 878.91L1151.6 889.65L1157.73 895.31L1163.87 894.34L1170.01 892.58L1176.15 888.09L1182.28 883.2L1188.42 891.02L1194.56 898.44L1200.69 906.05L1206.83 897.85L1212.97 891.41L1219.11 886.13L1225.24 879.3L1231.38 879.88L1237.52 878.71L1243.66 880.27L1249.79 880.27L1255.93 873.05L1262.07 863.09L1268.2 882.23L1274.34 878.91L1280.48 877.34L1286.62 894.53L1292.75 885.16L1298.89 884.77L1305.03 895.9L1311.16 890.04L1317.3 895.31L1323.44 910.55L1329.58 900.39L1335.71 914.45L1341.85 934.38L1347.99 933.59L1354.12 926.56L1360.26 924.22L1366.4 922.27L1372.54 918.95L1378.67 949.22L1384.81 937.3L1390.95 992.19L1397.09 973.05L1403.22 985.16L1409.36 963.28L1415.5 956.45L1421.63 956.84L1427.77 959.38L1433.91 965.23L1440.05 942.19L1446.18 918.36L1452.32 901.76L1458.46 903.71L1464.59 902.34L1470.73 904.69L1476.87 895.31L1483.01 911.91L1489.14 917.97L1495.28 919.73L1501.42 912.89L1507.55 918.36L1513.69 947.07L1519.83 955.47L1525.97 938.28L1532.1 940.43L1538.24 939.45L1544.38 940.43L1550.52 946.68L1556.65 948.63L1562.79 955.47L1568.93 957.42L1575.06 958.01L1581.2 944.73L1587.34 943.36L1593.48 945.7L1599.61 969.53L1605.75 961.33L1611.89 961.72L1618.02 957.03L1624.16 1000.98L1630.3 991.02L1636.44 989.26L1642.57 993.16L1648.71 987.7L1654.85 967.19L1660.98 946.29L1667.12 954.1L1673.26 960.94L1679.4 951.56L1685.53 957.03L1691.67 957.81L1697.81 962.3L1703.95 948.24L1710.08 934.57L1716.22 935.94L1722.36 940.82L1728.49 927.54L1734.63 929.69L1740.77 936.91L1746.91 940.82L1753.04 947.66L1759.18 948.24L1765.32 963.28L1771.45 970.7L1777.59 965.23L1783.73 930.47L1789.87 946.68L1796 967.58L1802.14 957.03L1808.28 953.91L1814.41 955.47" fill="none" stroke="#7e57c2" stroke-width="1.25" stroke-linejoin="round"/>
<path d="M12.11 944.73C14.97 943.98 24.58 941.18 29.3 940.23C34.02 939.29 36.52 938.96 40.43 939.06C44.34 939.16 47.59 940.23 52.73 940.82C57.88 941.41 66.15 942.42 71.29 942.58C76.43 942.74 79.52 941.86 83.59 941.8C87.66 941.73 92.64 941.86 95.7 942.19C98.76 942.51 98.86 944.08 101.95 943.75C105.05 943.42 110.16 942.02 114.26 940.23C118.36 938.44 122.46 935.19 126.56 933.01C130.66 930.83 133.76 930.57 138.87 927.15C143.98 923.73 152.12 916.18 157.23 912.5C162.34 908.82 165.43 907.68 169.53 905.08C173.63 902.47 176.73 898.89 181.84 896.88C186.95 894.86 195.08 893.78 200.2 892.97C205.31 892.15 208.4 892.32 212.5 891.99C216.6 891.67 221.71 891.11 224.8 891.02C227.9 890.92 227.96 890.69 231.05 891.41C234.15 892.12 239.29 894.14 243.36 895.31C247.43 896.48 251.4 897.36 255.47 898.44C259.54 899.51 263.67 901.43 267.77 901.76C271.88 902.08 275.98 900.68 280.08 900.39C284.18 900.1 288.28 900.42 292.38 900C296.48 899.58 300.59 898.37 304.69 897.85C308.79 897.33 312.89 897.62 316.99 896.88C321.09 896.13 324.19 894.5 329.3 893.36C334.41 892.22 342.55 891.08 347.66 890.04C352.77 889 354.82 888.41 359.96 887.11C365.1 885.81 373.51 883.2 378.52 882.23C383.52 881.25 386.46 881.67 390 881.25C393.54 880.83 396.51 879.95 399.77 879.69C403.02 879.43 405.95 879.26 409.53 879.69C413.11 880.11 417.21 881.32 421.25 882.23C425.29 883.14 429.52 883.69 433.75 885.16C437.98 886.62 442.54 888.74 446.64 891.02C450.74 893.29 454.39 896.29 458.36 898.83C462.33 901.37 466.4 904.23 470.47 906.25C474.54 908.27 478.77 909.64 482.77 910.94C486.78 912.24 491.4 913.74 494.49 914.06C497.58 914.39 498.17 913.8 501.33 912.89C504.49 911.98 509.37 909.7 513.44 908.59C517.51 907.49 521.64 907.39 525.74 906.25C529.84 905.11 533.95 903.97 538.05 901.76C542.15 899.54 546.25 895.57 550.35 892.97C554.45 890.36 558.55 887.92 562.66 886.13C566.76 884.34 570.86 882.81 574.96 882.23C579.06 881.64 583.16 882.29 587.27 882.62C591.37 882.94 595.47 883.53 599.57 884.18C603.67 884.83 607.77 885.87 611.88 886.52C615.98 887.17 620.08 887.34 624.18 888.09C628.28 888.83 632.42 890.36 636.48 891.02C640.55 891.67 645.53 891.93 648.59 891.99C651.65 892.06 651.75 892.12 654.84 891.41C657.94 890.69 663.05 888.48 667.15 887.7C671.25 886.91 675.35 887.04 679.45 886.72C683.55 886.39 687.92 885.74 691.76 885.74C695.6 885.74 699.08 885.9 702.5 886.72C705.92 887.53 709.01 889 712.27 890.62C715.52 892.25 718.29 893.98 722.03 896.48C725.77 898.99 730.56 902.6 734.73 905.66C738.89 908.72 742.93 911.91 747.03 914.84C751.13 917.77 755.23 920.87 759.34 923.24C763.44 925.62 768.2 927.47 771.64 929.1C775.08 930.73 776.65 932.13 780 933.01C783.35 933.89 788.01 934.54 791.72 934.38C795.43 934.21 799.5 932.65 802.27 932.03C805.03 931.41 805.26 930.89 808.32 930.66C811.38 930.44 817.53 930.5 820.62 930.66C823.72 930.83 823.82 930.27 826.88 931.64C829.93 933.01 834.92 936.36 838.98 938.87C843.05 941.37 847.19 944.24 851.29 946.68C855.39 949.12 859.49 951.56 863.59 953.52C867.7 955.47 871.8 957.1 875.9 958.4C880 959.7 884.1 961.07 888.2 961.33C892.3 961.59 896.41 960.38 900.51 959.96C904.61 959.54 908.71 960.03 912.81 958.79C916.91 957.55 921.02 954.65 925.12 952.54C929.22 950.42 933.32 948.7 937.42 946.09C941.52 943.49 945.62 939.91 949.73 936.91C953.83 933.92 957.96 930.57 962.03 928.12C966.1 925.68 970.07 924.38 974.14 922.27C978.21 920.15 982.34 917.55 986.45 915.43C990.55 913.31 994.65 910.94 998.75 909.57C1002.85 908.2 1006.95 907.88 1011.05 907.23C1015.16 906.58 1020.27 905.99 1023.36 905.66C1026.45 905.34 1026.55 905.18 1029.61 905.27C1032.67 905.37 1037.65 905.86 1041.72 906.25C1045.79 906.64 1049.92 907.29 1054.02 907.62C1058.12 907.94 1063.24 908.04 1066.33 908.2C1069.42 908.37 1069.84 908.76 1072.58 908.59C1075.31 908.43 1079.67 907.94 1082.73 907.23C1085.79 906.51 1087.52 906.18 1090.94 904.3C1094.36 902.41 1100.18 897.62 1103.24 895.9C1106.3 894.17 1106.24 895.41 1109.3 893.95C1112.36 892.48 1117.5 889.23 1121.6 887.11C1125.7 884.99 1129.8 882.81 1133.91 881.25C1138.01 879.69 1142.7 878.45 1146.21 877.73C1149.73 877.02 1151.91 877.02 1155 876.95C1158.09 876.89 1162.27 877.12 1164.77 877.34C1167.27 877.57 1167.17 877.83 1170 878.32C1172.83 878.81 1177.49 879.46 1181.72 880.27C1185.95 881.09 1191.06 882 1195.39 883.2C1199.72 884.41 1203.63 886.26 1207.7 887.5C1211.76 888.74 1215.74 890.04 1219.8 890.62C1223.87 891.21 1228.01 891.34 1232.11 891.02C1236.21 890.69 1240.31 889.55 1244.41 888.67C1248.52 887.79 1253.63 886.43 1256.72 885.74C1259.81 885.06 1259.91 884.99 1262.97 884.57C1266.03 884.15 1271.01 883.82 1275.08 883.2C1279.15 882.58 1283.28 881.38 1287.38 880.86C1291.48 880.34 1295.59 880.01 1299.69 880.08C1303.79 880.14 1307.89 880.57 1311.99 881.25C1316.09 881.93 1320.2 883.04 1324.3 884.18C1328.4 885.32 1332.5 885.97 1336.6 888.09C1340.7 890.2 1344.8 894.43 1348.91 896.88C1353.01 899.32 1357.11 900.78 1361.21 902.73C1365.31 904.69 1369.41 906.15 1373.52 908.59C1377.62 911.04 1381.72 914.13 1385.82 917.38C1389.92 920.64 1394.06 924.71 1398.12 928.12C1402.19 931.54 1406.17 935.06 1410.23 937.89C1414.3 940.72 1418.44 943.1 1422.54 945.12C1426.64 947.14 1431.75 948.99 1434.84 950C1437.94 951.01 1439.04 951.01 1441.09 951.17C1443.14 951.33 1444.09 951.56 1447.15 950.98C1450.21 950.39 1455.35 949.35 1459.45 947.66C1463.55 945.96 1468.7 942.94 1471.76 940.82C1474.82 938.7 1474.75 937.24 1477.81 934.96C1480.87 932.68 1486.02 929.52 1490.12 927.15C1494.22 924.77 1499.33 922.17 1502.42 920.7C1505.51 919.24 1505.58 918.98 1508.67 918.36C1511.76 917.74 1517.92 917.22 1520.98 916.99C1524.04 916.76 1524.98 916.76 1527.03 916.99C1529.08 917.22 1530.19 917.25 1533.28 918.36C1536.37 919.47 1541.52 921.68 1545.59 923.63C1549.65 925.59 1555.29 928.84 1557.7 930.08C1560.1 931.32 1557.99 929.82 1560 931.05C1562.01 932.29 1566.05 935.55 1569.77 937.5C1573.48 939.45 1578.13 941.18 1582.27 942.77C1586.4 944.37 1590.47 946.03 1594.57 947.07C1598.67 948.11 1602.97 948.21 1606.88 949.02C1610.78 949.84 1614.1 950.39 1618.01 951.95C1621.91 953.52 1626.21 956.18 1630.31 958.4C1634.41 960.61 1639.56 963.77 1642.62 965.23C1645.68 966.7 1646.62 966.7 1648.67 967.19C1650.72 967.68 1652.87 968.16 1654.92 968.16C1656.97 968.16 1658.93 967.19 1660.98 967.19C1663.03 967.19 1665.18 967.77 1667.23 968.16C1669.28 968.55 1671.23 969.21 1673.28 969.53C1675.33 969.86 1677.48 970.18 1679.53 970.12C1681.58 970.05 1682.53 969.37 1685.59 969.14C1688.65 968.91 1694.83 968.98 1697.89 968.75C1700.95 968.52 1701.89 968.68 1703.95 967.77C1706 966.86 1707.1 965.17 1710.2 963.28C1713.29 961.39 1718.4 958.95 1722.5 956.45C1726.6 953.94 1731.74 950.03 1734.8 948.24C1737.86 946.45 1738.81 946.19 1740.86 945.7C1742.91 945.21 1744.02 945.57 1747.11 945.31C1750.2 945.05 1755.31 944.14 1759.41 944.14C1763.52 944.14 1768.66 945.05 1771.72 945.31C1774.78 945.57 1775.76 945.96 1777.77 945.7C1779.79 945.44 1781.78 944.08 1783.83 943.75C1785.88 943.42 1788.03 943.42 1790.08 943.75C1792.13 944.08 1794.08 945.12 1796.13 945.7C1798.18 946.29 1800.33 946.84 1802.38 947.27C1804.43 947.69 1806.42 947.69 1808.44 948.24C1810.46 948.8 1813.48 950.2 1814.49 950.59" fill="none" stroke="#f7cd2a" stroke-width="1.3" stroke-linejoin="round"/>
</g>
<g fill="none" stroke="#9c27b0" stroke-width="1.6" stroke-linecap="round"><path d="M1804.3 819.5A12.2 12.2 0 0 1 1820.0 812.4"/><path d="M1827.6 820.3A12.2 12.2 0 0 1 1806.6 831.8"/></g>
<path d="M1819 818L1810.8 825.4L1815.6 825.6L1812 830.9L1821 823.3L1816.1 823.1z" fill="#9c27b0"/>
<path d="M1802.6 822.6C1803.3 826.6 1804.6 827.9 1808.6 828.6C1804.6 829.3 1803.3 830.6 1802.6 834.6C1801.9 830.6 1800.6 829.3 1796.6 828.6C1800.6 827.9 1801.9 826.6 1802.6 822.6z" fill="#7c4dff"/>
<circle cx="1824" cy="815.6" r="3.3" fill="#f23645"/>
<g transform="translate(1857.8 824.1)"><circle r="12.6" fill="#fff" stroke="#f23645" stroke-width="1.6"/><g clip-path="url(#fl)"><rect x="-10" y="-10" width="20" height="20" fill="#f5f7fb"/><rect x="-10" y="-10" width="20" height="5" fill="#ef5350"/><rect x="-10" y="-2.2" width="20" height="4" fill="#ef5350"/><rect x="-10" y="5.1" width="20" height="5" fill="#ef5350"/><rect x="-10" y="-10" width="12.5" height="11.8" fill="#1e88e5"/><path d="M-7 -6.5h9M-8 -3.5h10M-8 -0.5h10" stroke="#fff" stroke-width="1.1" stroke-dasharray="1.3 1.7"/></g></g>
<g transform="translate(1894.6 824.1)"><circle r="12.6" fill="#fff" stroke="#f23645" stroke-width="1.6"/><g clip-path="url(#fl)"><rect x="-10" y="-10" width="20" height="20" fill="#f5f7fb"/><rect x="-10" y="-10" width="20" height="5" fill="#ef5350"/><rect x="-10" y="-2.2" width="20" height="4" fill="#ef5350"/><rect x="-10" y="5.1" width="20" height="5" fill="#ef5350"/><rect x="-10" y="-10" width="12.5" height="11.8" fill="#1e88e5"/><path d="M-7 -6.5h9M-8 -3.5h10M-8 -0.5h10" stroke="#fff" stroke-width="1.1" stroke-dasharray="1.3 1.7"/></g></g>
<text x="1960.5" y="95.55" font-size="14.2" fill="#131722" textLength="62" lengthAdjust="spacing" stroke="#131722" stroke-width="0.28">1,360.00</text>
<text x="1960.5" y="150.8" font-size="14.2" fill="#131722" textLength="62" lengthAdjust="spacing" stroke="#131722" stroke-width="0.28">1,310.00</text>
<text x="1960.5" y="206.8" font-size="14.2" fill="#131722" textLength="62" lengthAdjust="spacing" stroke="#131722" stroke-width="0.28">1,260.00</text>
<text x="1960.5" y="265.3" font-size="14.2" fill="#131722" textLength="62" lengthAdjust="spacing" stroke="#131722" stroke-width="0.28">1,210.00</text>
<text x="1960.5" y="314.3" font-size="14.2" fill="#131722" textLength="62" lengthAdjust="spacing" stroke="#131722" stroke-width="0.28">1,170.00</text>
<text x="1960.5" y="365.3" font-size="14.2" fill="#131722" textLength="62" lengthAdjust="spacing" stroke="#131722" stroke-width="0.28">1,130.00</text>
<text x="1960.5" y="417.3" font-size="14.2" fill="#131722" textLength="62" lengthAdjust="spacing" stroke="#131722" stroke-width="0.28">1,090.00</text>
<text x="1960.5" y="471.3" font-size="14.2" fill="#131722" textLength="62" lengthAdjust="spacing" stroke="#131722" stroke-width="0.28">1,050.00</text>
<text x="1960.5" y="528.3" font-size="14.2" fill="#131722" textLength="62" lengthAdjust="spacing" stroke="#131722" stroke-width="0.28">1,010.00</text>
<text x="1959.3" y="572.8" font-size="14.2" fill="#131722" textLength="50" lengthAdjust="spacing" stroke="#131722" stroke-width="0.28">980.00</text>
<text x="1959.3" y="618.3" font-size="14.2" fill="#131722" textLength="50" lengthAdjust="spacing" stroke="#131722" stroke-width="0.28">950.00</text>
<text x="1959.3" y="663.8" font-size="14.2" fill="#131722" textLength="50" lengthAdjust="spacing" stroke="#131722" stroke-width="0.28">920.00</text>
<text x="1959.3" y="704.05" font-size="14.2" fill="#131722" textLength="50" lengthAdjust="spacing" stroke="#131722" stroke-width="0.28">895.00</text>
<text x="1959.3" y="744.05" font-size="14.2" fill="#131722" textLength="50" lengthAdjust="spacing" stroke="#131722" stroke-width="0.28">871.00</text>
<text x="1959.3" y="784.05" font-size="14.2" fill="#131722" textLength="50" lengthAdjust="spacing" stroke="#131722" stroke-width="0.28">847.00</text>
<text x="1959.3" y="822.3" font-size="14.2" fill="#131722" textLength="50" lengthAdjust="spacing" stroke="#131722" stroke-width="0.28">825.00</text>
<g clip-path="url(#cr)">
<text x="1959.3" y="845.5" font-size="14.2" fill="#131722" textLength="50" lengthAdjust="spacing" stroke="#131722" stroke-width="0.28">100.00</text>
</g>
<text x="1959.3" y="911.9" font-size="14.2" fill="#131722" textLength="40.3" lengthAdjust="spacing" stroke="#131722" stroke-width="0.28">60.00</text>
<text x="1959.3" y="1009.6" font-size="14.2" fill="#131722" textLength="40.3" lengthAdjust="spacing" stroke="#131722" stroke-width="0.28">28.00</text>
<path d="M1948 267H2027a2 2 0 0 1 2 2V284.7a2 2 0 0 1 -2 2H1948z" fill="#800000"/>
<text x="1960.5" y="281.75" font-size="14.2" fill="#fff" textLength="62" lengthAdjust="spacing" stroke="#fff" stroke-width="0.28">1,183.40</text>
<path d="M1948 288H2027a2 2 0 0 1 2 2V305.6a2 2 0 0 1 -2 2H1948z" fill="#2962ff"/>
<text x="1960.5" y="302.7" font-size="14.2" fill="#fff" textLength="62" lengthAdjust="spacing" stroke="#fff" stroke-width="0.28">1,180.03</text>
<path d="M1948 359.3H2027a2 2 0 0 1 2 2V377.3a2 2 0 0 1 -2 2H1948z" fill="#ffff00"/>
<text x="1960.5" y="374.2" font-size="14.2" fill="#131722" textLength="62" lengthAdjust="spacing" stroke="#131722" stroke-width="0.28">1,123.45</text>
<path d="M1948 381.3H2027a2 2 0 0 1 2 2V399.3a2 2 0 0 1 -2 2H1948z" fill="#800080"/>
<text x="1960.5" y="396.2" font-size="14.2" fill="#fff" textLength="62" lengthAdjust="spacing" stroke="#fff" stroke-width="0.28">1,106.66</text>
<path d="M1948 430.5H2027a2 2 0 0 1 2 2V465.8a2 2 0 0 1 -2 2H1948z" fill="#f23645"/>
<text x="1960.5" y="445" font-size="14.2" fill="#fff" textLength="62" lengthAdjust="spacing" stroke="#fff" stroke-width="0.28">1,069.55</text>
<text x="1960.5" y="461.9" font-size="14.2" fill="#fff" textLength="39.5" lengthAdjust="spacing" stroke="#fff" stroke-width="0.28" fill-opacity="0.82">15:06</text>
<path d="M1948 529.2H2027a2 2 0 0 1 2 2V547a2 2 0 0 1 -2 2H1948z" fill="#434651"/>
<text x="1960.5" y="544" font-size="14.2" fill="#fff" textLength="62" lengthAdjust="spacing" stroke="#fff" stroke-width="0.28">1,000.00</text>
<path d="M1948 595.5H2013.8a2 2 0 0 1 2 2V613.8a2 2 0 0 1 -2 2H1948z" fill="#2962ff"/>
<text x="1959.3" y="610.55" font-size="14.2" fill="#fff" textLength="50" lengthAdjust="spacing" stroke="#fff" stroke-width="0.28">955.00</text>
<path d="M1948 629.2H2013.8a2 2 0 0 1 2 2V647.5a2 2 0 0 1 -2 2H1948z" fill="#2962ff"/>
<text x="1959.3" y="644.25" font-size="14.2" fill="#fff" textLength="50" lengthAdjust="spacing" stroke="#fff" stroke-width="0.28">932.79</text>
<path d="M1948 924.6H2004.2a2 2 0 0 1 2 2V942.3a2 2 0 0 1 -2 2H1948z" fill="#fdd835"/>
<text x="1959.3" y="939.35" font-size="14.2" fill="#131722" textLength="40.3" lengthAdjust="spacing" stroke="#131722" stroke-width="0.28">43.00</text>
<path d="M1948 945.5H2004.2a2 2 0 0 1 2 2V963.6a2 2 0 0 1 -2 2H1948z" fill="#7e57c2"/>
<text x="1959.3" y="960.45" font-size="14.2" fill="#fff" textLength="40.3" lengthAdjust="spacing" stroke="#fff" stroke-width="0.28">41.35</text>
<rect x="1952.5" y="37.5" width="79.5" height="31.5" rx="4" fill="#fff" stroke="#ebecef" stroke-width="1"/>
<text x="1963" y="58.3" font-size="14.2" fill="#131722" textLength="30.5" lengthAdjust="spacing" stroke="#131722" stroke-width="0.28">USD</text>
<text x="71.5" y="1036" font-size="14.2" fill="#131722" stroke="#131722" stroke-width="0.28" text-anchor="middle">5</text>
<text x="145.5" y="1036" font-size="14.2" fill="#131722" stroke="#131722" stroke-width="0.28" text-anchor="middle">7</text>
<text x="218.5" y="1036" font-size="14.2" fill="#131722" stroke="#131722" stroke-width="0.28" text-anchor="middle">9</text>
<text x="292.5" y="1036" font-size="14.2" fill="#131722" textLength="17.2" lengthAdjust="spacing" stroke="#131722" stroke-width="0.28" text-anchor="middle">11</text>
<text x="366.5" y="1036" font-size="14.2" fill="#131722" textLength="17.2" lengthAdjust="spacing" stroke="#131722" stroke-width="0.28" text-anchor="middle">13</text>
<text x="439.5" y="1036" font-size="14.2" fill="#131722" textLength="17.2" lengthAdjust="spacing" stroke="#131722" stroke-width="0.28" text-anchor="middle">15</text>
<text x="513.5" y="1036" font-size="14.2" fill="#131722" textLength="17.2" lengthAdjust="spacing" stroke="#131722" stroke-width="0.28" text-anchor="middle">17</text>
<text x="587.5" y="1036" font-size="14.2" fill="#131722" textLength="17.2" lengthAdjust="spacing" stroke="#131722" stroke-width="0.28" text-anchor="middle">19</text>
<text x="660.5" y="1036" font-size="14.2" fill="#131722" textLength="17.2" lengthAdjust="spacing" stroke="#131722" stroke-width="0.28" text-anchor="middle">21</text>
<text x="734.5" y="1036" font-size="14.2" fill="#131722" textLength="17.2" lengthAdjust="spacing" stroke="#131722" stroke-width="0.28" text-anchor="middle">23</text>
<text x="808.5" y="1036" font-size="14.2" fill="#131722" textLength="17.2" lengthAdjust="spacing" stroke="#131722" stroke-width="0.28" text-anchor="middle">25</text>
<text x="881.5" y="1036" font-size="14.2" fill="#131722" textLength="17.2" lengthAdjust="spacing" stroke="#131722" stroke-width="0.28" text-anchor="middle">27</text>
<text x="955.5" y="1036" font-size="14.2" fill="#131722" textLength="17.2" lengthAdjust="spacing" stroke="#131722" stroke-width="0.28" text-anchor="middle">29</text>
<text x="1028.9" y="1036" font-size="14.2" fill="#131722" textLength="25.4" lengthAdjust="spacing" font-weight="bold" text-anchor="middle">Oct</text>
<text x="1102.5" y="1036" font-size="14.2" fill="#131722" stroke="#131722" stroke-width="0.28" text-anchor="middle">3</text>
<text x="1176.5" y="1036" font-size="14.2" fill="#131722" stroke="#131722" stroke-width="0.28" text-anchor="middle">5</text>
<text x="1250.5" y="1036" font-size="14.2" fill="#131722" stroke="#131722" stroke-width="0.28" text-anchor="middle">7</text>
<text x="1323.5" y="1036" font-size="14.2" fill="#131722" stroke="#131722" stroke-width="0.28" text-anchor="middle">9</text>
<text x="1397.5" y="1036" font-size="14.2" fill="#131722" textLength="17.2" lengthAdjust="spacing" stroke="#131722" stroke-width="0.28" text-anchor="middle">11</text>
<text x="1471.5" y="1036" font-size="14.2" fill="#131722" textLength="17.2" lengthAdjust="spacing" stroke="#131722" stroke-width="0.28" text-anchor="middle">13</text>
<text x="1545.5" y="1036" font-size="14.2" fill="#131722" textLength="17.2" lengthAdjust="spacing" stroke="#131722" stroke-width="0.28" text-anchor="middle">15</text>
<text x="1618.5" y="1036" font-size="14.2" fill="#131722" textLength="17.2" lengthAdjust="spacing" stroke="#131722" stroke-width="0.28" text-anchor="middle">17</text>
<text x="1692.5" y="1036" font-size="14.2" fill="#131722" textLength="17.2" lengthAdjust="spacing" stroke="#131722" stroke-width="0.28" text-anchor="middle">19</text>
<text x="1766.5" y="1036" font-size="14.2" fill="#131722" textLength="17.2" lengthAdjust="spacing" stroke="#131722" stroke-width="0.28" text-anchor="middle">21</text>
<text x="1839.5" y="1036" font-size="14.2" fill="#131722" textLength="17.2" lengthAdjust="spacing" stroke="#131722" stroke-width="0.28" text-anchor="middle">23</text>
<text x="1913.5" y="1036" font-size="14.2" fill="#131722" textLength="17.2" lengthAdjust="spacing" stroke="#131722" stroke-width="0.28" text-anchor="middle">25</text>
<text x="12.6" y="24.3" font-size="14.7" fill="#131722" textLength="489" lengthAdjust="spacing" stroke="#131722" stroke-width="0.28">kanguhalubale created with TradingView.com, Oct 22, 2025 11:44 UTC</text>
<text x="22.9" y="57.1" font-size="14.7" fill="#131722" textLength="131.5" lengthAdjust="spacing" stroke="#131722" stroke-width="0.28">BNB · 4h · CRYPTO</text>
<text x="164" y="57.1" font-size="14.7" fill="#131722" stroke="#131722" stroke-width="0.28">O</text>
<text x="175.3" y="57.1" font-size="14.7" fill="#f23645" textLength="55.9" lengthAdjust="spacing" stroke="#f23645" stroke-width="0.28">1,071.64</text>
<text x="240.8" y="57.1" font-size="14.7" fill="#131722" stroke="#131722" stroke-width="0.28">H</text>
<text x="252.4" y="57.1" font-size="14.7" fill="#f23645" textLength="55" lengthAdjust="spacing" stroke="#f23645" stroke-width="0.28">1,074.74</text>
<text x="317" y="57.1" font-size="14.7" fill="#131722" stroke="#131722" stroke-width="0.28">L</text>
<text x="325.4" y="57.1" font-size="14.7" fill="#f23645" textLength="58.1" lengthAdjust="spacing" stroke="#f23645" stroke-width="0.28">1,059.24</text>
<text x="393.2" y="57.1" font-size="14.7" fill="#131722" stroke="#131722" stroke-width="0.28">C</text>
<text x="404.5" y="57.1" font-size="14.7" fill="#f23645" textLength="58.1" lengthAdjust="spacing" stroke="#f23645" stroke-width="0.28">1,069.55</text>
<text x="472.3" y="57.1" font-size="14.7" fill="#f23645" textLength="108.4" lengthAdjust="spacing" stroke="#f23645" stroke-width="0.28">−2.09 (−0.20%)</text>
<text x="22.9" y="78" font-size="14.7" fill="#131722" textLength="276.5" lengthAdjust="spacing" stroke="#131722" stroke-width="0.28">SMAs (50, close, 100, close, 200, close)</text>
<text x="308" y="78" font-size="14.7" fill="#ffff00" textLength="57.4" lengthAdjust="spacing" stroke="#ffff00" stroke-width="0.28">1,123.45</text>
<text x="373.9" y="78" font-size="14.7" fill="#800000" textLength="58.5" lengthAdjust="spacing" stroke="#800000" stroke-width="0.28">1,183.40</text>
<text x="439.8" y="78" font-size="14.7" fill="#800080" textLength="59" lengthAdjust="spacing" stroke="#800080" stroke-width="0.28">1,106.66</text>
<text x="22.7" y="864.6" font-size="14.7" fill="#131722" textLength="98" lengthAdjust="spacing" stroke="#131722" stroke-width="0.28">RSI (14, close)</text>
<text x="130.9" y="864.6" font-size="14.7" fill="#7e57c2" textLength="36.7" lengthAdjust="spacing" stroke="#7e57c2" stroke-width="0.28">41.35</text>
<text x="177.3" y="864.6" font-size="14.7" fill="#fdd835" textLength="39.5" lengthAdjust="spacing" stroke="#fdd835" stroke-width="0.28">43.00</text>
<g fill="#131313"><path d="M14.6 1074.3H30.1V1092.6H21.9V1081.1H14.6z"/><circle cx="35.7" cy="1078" r="3.1"/><path d="M41.8 1074.3H51.1L45.3 1092.6H35.7z"/></g>
<text x="60.1" y="1092.6" font-size="25" fill="#131313" textLength="148.6" lengthAdjust="spacing" font-weight="bold" stroke="#131313" stroke-width="0.5">TradingView</text>
</svg></body></html>
